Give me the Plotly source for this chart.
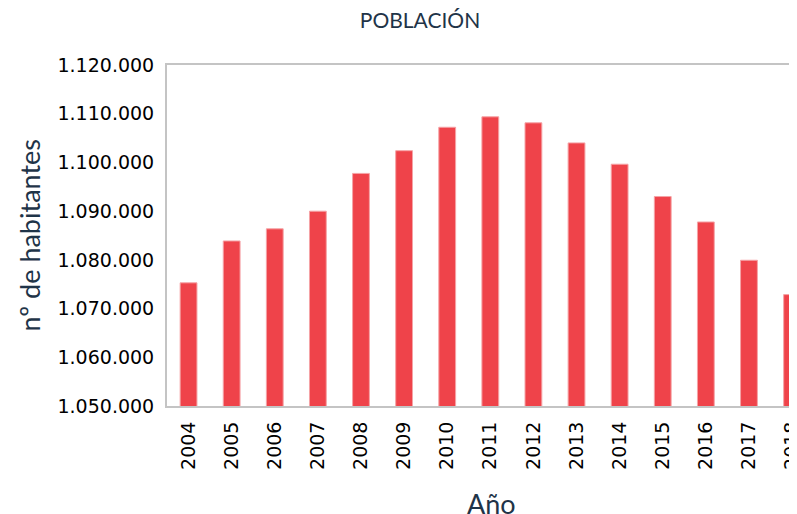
import plotly.graph_objects as go

# Data
years = ["2004", "2005", "2006", "2007", "2008", "2009", "2010", "2011",
         "2012", "2013", "2014", "2015", "2016", "2017", "2018"]
population = [1075286, 1083879, 1086373, 1089990, 1097744, 1102410, 1107220, 1109367,
              1108130, 1104004, 1099632, 1092997, 1087778, 1079920, 1072863]
y_ticks = [1050000, 1060000, 1070000, 1080000, 1090000, 1100000, 1110000, 1120000]

title_text = "POBLACIÓN"
x_title = "Año"
y_title = "nº de habitantes"

navy = "#1F3448"
frame = "#C4C4C4"

fig = go.Figure(
    go.Bar(
        x=years,
        y=population,
        width=0.39,
        marker=dict(color="#EF434A", line=dict(color="#F5A3A6", width=1)),
        hoverinfo="x+y",
    )
)

# page body adds an 8px offset; figure coordinates are window coords minus 8
OFF = 8
W, H = 797, 514
L, R, T, B = 167 - OFF, 0, 65 - OFF, H - (406 - OFF)
plot_w = W - L - R
plot_h = H - T - B

fig.update_layout(
    width=W,
    height=H,
    margin=dict(l=L, r=R, t=T, b=B, pad=0),
    paper_bgcolor="white",
    plot_bgcolor="white",
    separators=",.",
    showlegend=False,
    title=dict(
        text=title_text,
        xref="container", x=(420 - OFF) / W, xanchor="center",
        yref="container", y=1 - (21 - OFF) / H, yanchor="middle",
        font=dict(family="Lato", size=21, color=navy),
    ),
    xaxis=dict(
        type="category",
        range=[-0.5, 14.3],
        tickangle=-90,
        tickfont=dict(family="DejaVu Sans", size=19, color="#000000"),
        showline=True, linecolor=frame, linewidth=2, mirror=True,
        ticks="", showgrid=False, zeroline=False,
        ticklabelstandoff=6,
    ),
    yaxis=dict(
        range=[1050000, 1120000],
        tickvals=y_ticks,
        tickformat=",d",
        tickfont=dict(family="DejaVu Sans", size=19, color="#000000"),
        showline=True, linecolor=frame, linewidth=2, mirror=False,
        ticks="", showgrid=False, zeroline=False,
        ticklabelstandoff=7,
    ),
    annotations=[
        dict(
            text=x_title, showarrow=False,
            xref="paper", x=(491 - OFF - L) / plot_w, xanchor="center",
            yref="paper", y=-(503 - 406) / plot_h, yanchor="middle",
            font=dict(family="Lato", size=27, color=navy),
        ),
        dict(
            text=y_title, showarrow=False, textangle=-90,
            xref="paper", x=(29 - OFF - L) / plot_w, xanchor="center",
            yref="paper", y=0.5, yanchor="middle",
            font=dict(family="Lato", size=27, color=navy),
        ),
    ],
)

fig.write_html("out.html")
